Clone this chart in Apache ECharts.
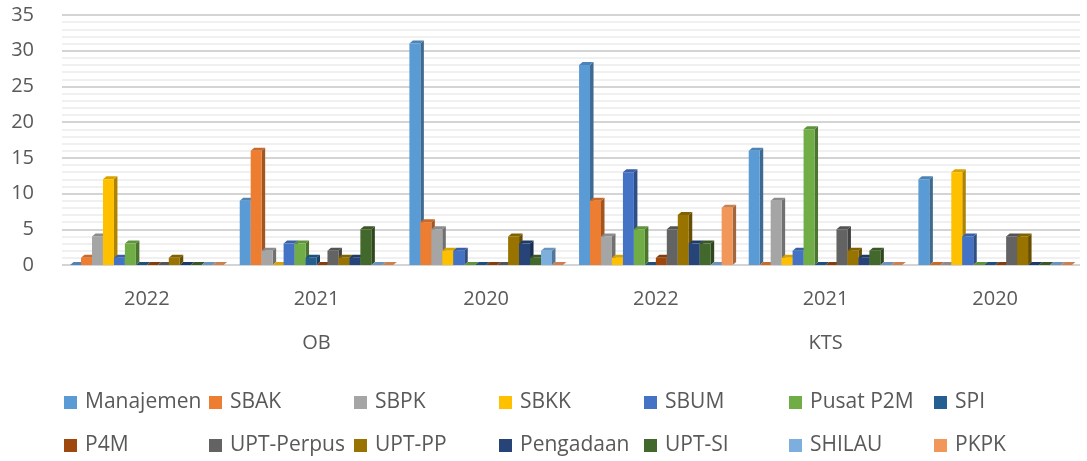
<!DOCTYPE html>
<html>
<head>
<meta charset="utf-8">
<script src="https://cdn.jsdelivr.net/npm/echarts@6/dist/echarts.min.js"></script>
<style>html,body{margin:0;padding:0;background:#fff}#main{width:1087px;height:461px}</style>
</head>
<body>
<div id="main"></div>
<script>
// kategori tahun per kelompok
var years = ["2022", "2021", "2020", "2022", "2021", "2020"];
var groups = ["OB", "KTS"];
var names = ["Manajemen", "SBAK", "SBPK", "SBKK", "SBUM", "Pusat P2M", "SPI",
    "P4M", "UPT-Perpus", "UPT-PP", "Pengadaan", "UPT-SI", "SHILAU", "PKPK"];
var colors = ["#5B9BD5", "#ED7D31", "#A5A5A5", "#FFC000", "#4472C4", "#70AD47", "#255E91",
    "#9E480E", "#636363", "#997300", "#264478", "#43682B", "#7CAFDD", "#F1975A"];

// nilai per unit: OB 2022, OB 2021, OB 2020, KTS 2022, KTS 2021, KTS 2020
var manajemen = [0, 9, 31, 28, 16, 12];
var sbak = [1, 16, 6, 9, 0, 0];
var sbpk = [4, 2, 5, 4, 9, 0];
var sbkk = [12, 0, 2, 1, 1, 13];
var sbum = [1, 3, 2, 13, 2, 4];
var p2m = [3, 3, 0, 5, 19, 0];
var spi = [0, 1, 0, 0, 0, 0];
var p4m = [0, 0, 0, 1, 0, 0];
var perpus = [0, 2, 0, 5, 5, 4];
var uptpp = [1, 1, 4, 7, 2, 4];
var pengadaan = [0, 1, 3, 3, 1, 0];
var uptsi = [0, 5, 1, 3, 2, 0];
var shilau = [0, 0, 2, 0, 0, 0];
var pkpk = [0, 0, 0, 8, 0, 0];

var values = [manajemen, sbak, sbpk, sbkk, sbum, p2m, spi, p4m, perpus, uptpp, pengadaan, uptsi, shilau, pkpk];

var font = "Open Sans";
var txt = "#595959";

function shade(hex, f) {
    var n = parseInt(hex.slice(1), 16);
    var r = Math.round((n >> 16 & 255) * f), g = Math.round((n >> 8 & 255) * f), b = Math.round((n & 255) * f);
    return "rgb(" + r + "," + g + "," + b + ")";
}

function makeSeries(idx) {
    var col = colors[idx];
    var side = shade(col, 0.68), topc = shade(col, 0.85);
    return {
        name: names[idx],
        type: "custom",
        color: col,
        itemStyle: {color: col},
        encode: {x: 0, y: 1},
        data: values[idx].map(function (v, c) { return [c, v]; }),
        renderItem: function (params, api) {
            var c = api.value(0), v = api.value(1);
            var base = api.coord([c, 0]), top = api.coord([c, v]);
            var band = api.size([1, 0])[0];
            var groupW = band * 0.905, bw = groupW / names.length;
            var x0 = base[0] - groupW / 2 + idx * bw;
            var dx = bw * 0.32, dy = 3;
            return {
                type: "group",
                children: [
                    {type: "polygon", shape: {points: [[x0 + bw, top[1]], [x0 + bw + dx, top[1] - dy], [x0 + bw + dx, base[1] - dy], [x0 + bw, base[1]]]}, style: {fill: side}},
                    {type: "polygon", shape: {points: [[x0, top[1]], [x0 + dx, top[1] - dy], [x0 + bw + dx, top[1] - dy], [x0 + bw, top[1]]]}, style: {fill: topc}},
                    {type: "rect", shape: {x: x0, y: top[1], width: bw, height: base[1] - top[1]}, style: {fill: col}}
                ]
            };
        }
    };
}

var series = [];
for (var i = 0; i < names.length; i++) series.push(makeSeries(i));

// satu legend per item supaya kolomnya rata
var legends = names.map(function (n, k) {
    return {
        data: [n], left: 64 + (k % 7) * 145, top: k < 7 ? 392 : 435,
        icon: "rect", itemWidth: 13, itemHeight: 13, itemGap: 0, padding: 0,
        textStyle: {fontFamily: font, fontSize: 21, color: txt, padding: [0, 0, 0, 3]}
    };
});

var chart = echarts.init(document.getElementById("main"));
chart.setOption({
    animation: false,
    textStyle: {fontFamily: font},
    grid: {left: 62, right: 7, top: 15, bottom: 196},
    legend: legends,
    xAxis: [{
        type: "category", data: years, position: "bottom",
        axisLine: {show: false}, axisTick: {show: false},
        axisLabel: {fontFamily: font, fontSize: 20, color: txt, margin: 24}
    }, {
        type: "category", data: groups, position: "bottom",
        axisLine: {show: false}, axisTick: {show: false},
        axisLabel: {fontFamily: font, fontSize: 20, color: txt, margin: 68}
    }],
    yAxis: {
        type: "value", min: 0, max: 35, interval: 5,
        axisLine: {show: false}, axisTick: {show: false},
        axisLabel: {fontFamily: font, fontSize: 20, color: txt, margin: 28},
        splitLine: {lineStyle: {color: "#d4d4d4", width: 2}},
        minorTick: {show: false, splitNumber: 5},
        minorSplitLine: {show: true, lineStyle: {color: "#ebebeb", width: 1.5}}
    },
    series: series
});
</script>
</body>
</html>
